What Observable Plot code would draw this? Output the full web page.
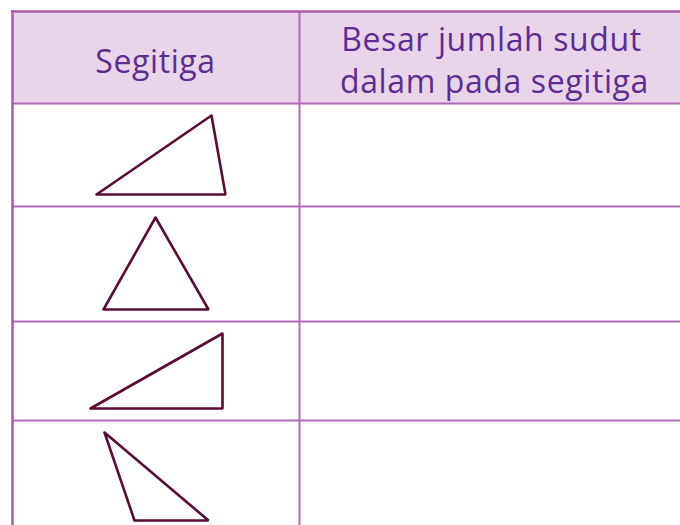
<!DOCTYPE html>
<html>
<head>
<meta charset="utf-8">
<script src="https://cdn.jsdelivr.net/npm/d3@7"></script>
<script src="https://cdn.jsdelivr.net/npm/@observablehq/plot@0.6"></script>
<style>
  html, body { margin: 0; padding: 0; background: #ffffff; }
  #chart svg { display: block; }
</style>
</head>
<body>
<div id="chart"></div>
<script>
// Table structure (pixel-space positions)
const columnEdges = [12, 299, 683];
const rowEdges = [11, 103, 206, 321, 420];
const tableBottom = 530;

// Header text lines: column center, baseline, label
const headerLines = [
  {x: 155, y: 72, label: "Segitiga"},
  {x: 491, y: 50, label: "Besar jumlah sudut"},
  {x: 494, y: 92, label: "dalam pada segitiga"}
];

// Triangle vertices (one closed path per row)
const triangles = [
  {id: "t1", pts: [[96, 194], [211, 115], [225, 194]]},
  {id: "t2", pts: [[155, 217], [103, 309], [208, 309]]},
  {id: "t3", pts: [[90, 408], [222, 333], [222, 408]]},
  {id: "t4", pts: [[104, 432], [134, 520], [208, 520]]}
];

const W = 680, H = 525;

const triData = triangles.flatMap(t =>
  [...t.pts, t.pts[0], t.pts[1]].map(([x, y]) => ({id: t.id, x, y}))
);

const headerRect = [{x1: columnEdges[0], x2: columnEdges[2], y1: rowEdges[0], y2: rowEdges[1]}];
const innerRows = rowEdges.slice(1).map(y => ({y, x1: columnEdges[0], x2: columnEdges[2]}));
const innerCols = columnEdges.slice(1).map(x => ({x, y1: rowEdges[0], y2: tableBottom}));

const chart = Plot.plot({
  width: W,
  height: H,
  margin: 0,
  x: {domain: [0, W], range: [0, W], axis: null},
  y: {domain: [0, H], range: [0, H], axis: null},
  style: {background: "#ffffff"},
  marks: [
    Plot.rect(headerRect, {x1: "x1", x2: "x2", y1: "y1", y2: "y2", fill: "#e8d5e9"}),
    Plot.ruleY(innerRows, {y: "y", x1: "x1", x2: "x2", stroke: "#b06cb6", strokeWidth: 2}),
    Plot.ruleX(innerCols, {x: "x", y1: "y1", y2: "y2", stroke: "#b06cb6", strokeWidth: 2}),
    Plot.ruleY([rowEdges[0]], {x1: columnEdges[0] - 1, x2: columnEdges[2], stroke: "#a85ba9", strokeWidth: 2.5}),
    Plot.ruleX([columnEdges[0]], {y1: rowEdges[0] - 1, y2: tableBottom, stroke: "#a85ba9", strokeWidth: 2.5}),
    Plot.line(triData, {x: "x", y: "y", z: "id", stroke: "#5a0b36", strokeWidth: 2.6, strokeLinejoin: "miter", curve: "linear"}),
    Plot.text(headerLines, {
      x: "x", y: "y", text: "label",
      fill: "#5c2d91",
      fontSize: 32,
      fontFamily: "Open Sans",
      lineAnchor: "bottom",
      textAnchor: "middle"
    })
  ]
});

chart.querySelectorAll("text").forEach(t => t.setAttribute("letter-spacing", "0.6"));
document.getElementById("chart").appendChild(chart);
</script>
</body>
</html>
